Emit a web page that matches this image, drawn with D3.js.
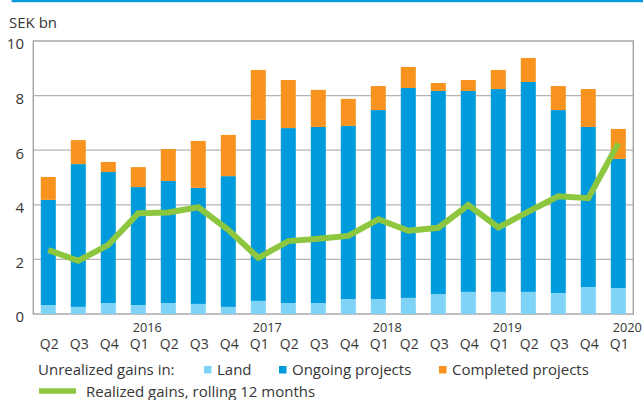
<!DOCTYPE html>
<html>
<head>
<meta charset="utf-8">
<script src="https://cdn.jsdelivr.net/npm/d3@7"></script>
<style>
  body { margin: 0; background: #fff; }
  svg text { font-family: "Open Sans", sans-serif; fill: #363636; }
</style>
</head>
<body>
<script>
// Data, SEK bn per quarter (Q2 2015 - Q1 2020)
const periods = ["2015Q2","2015Q3","2015Q4","2016Q1","2016Q2","2016Q3","2016Q4","2017Q1","2017Q2","2017Q3",
                 "2017Q4","2018Q1","2018Q2","2018Q3","2018Q4","2019Q1","2019Q2","2019Q3","2019Q4","2020Q1"];
const quarterLabels = ["Q2","Q3","Q4","Q1","Q2","Q3","Q4","Q1","Q2","Q3","Q4","Q1","Q2","Q3","Q4","Q1","Q2","Q3","Q4","Q1"];
const yearLabels = [["2016Q1","2016"],["2017Q1","2017"],["2018Q1","2018"],["2019Q1","2019"],["2020Q1","2020"]];
const land = [0.33,0.26,0.40,0.33,0.40,0.37,0.26,0.48,0.40,0.40,0.55,0.55,0.59,0.73,0.81,0.81,0.81,0.77,0.99,0.95];
const ongoing = [3.85,5.23,4.80,4.32,4.47,4.25,4.79,6.63,6.41,6.45,6.34,6.92,7.69,7.44,7.36,7.43,7.69,6.70,5.86,4.73];
const completed = [0.84,0.88,0.37,0.73,1.17,1.72,1.51,1.83,1.76,1.36,0.99,0.88,0.77,0.29,0.40,0.70,0.88,0.88,1.39,1.10];
const realized = [2.34,1.95,2.53,3.69,3.72,3.91,3.08,2.06,2.67,2.76,2.86,3.47,3.05,3.16,3.99,3.17,3.75,4.31,4.24,6.25];
const yTicks = [0,2,4,6,8,10];

const w = 643, h = 400;
const plotLeft = 33.3, plotRight = 633.3, plotTop = 41, plotBottom = 314;

const colors = { land: "#7fd3f6", ongoing: "#009bdc", completed: "#f7931e", realized: "#8dc63f" };

const svg = d3.select("body").append("svg").attr("width", w).attr("height", h);

// top rule
svg.append("rect").attr("x", 11.7).attr("y", 0).attr("width", w - 11.7).attr("height", 2.2).attr("fill", "#009bdc");

svg.append("text").attr("x", 9).attr("y", 27.5).attr("font-size", "15px").text("SEK bn");

const xScale = d3.scaleBand().domain(periods).range([plotLeft, plotRight]).paddingInner(0.5).paddingOuter(0.25);
const yScale = d3.scaleLinear().domain([0, 10]).range([plotBottom, plotTop]);

// gridlines
svg.append("g")
  .selectAll("line")
  .data(yTicks.slice(1, -1))
  .enter()
  .append("line")
  .attr("x1", plotLeft).attr("x2", plotRight)
  .attr("y1", d => yScale(d)).attr("y2", d => yScale(d))
  .attr("stroke", "#b4b4b4").attr("stroke-width", 1.3);

// frame
svg.append("rect")
  .attr("x", plotLeft).attr("y", plotTop)
  .attr("width", plotRight - plotLeft).attr("height", plotBottom - plotTop)
  .attr("fill", "none").attr("stroke", "#a3a3a3").attr("stroke-width", 1.4);

// stacked bars
const table = periods.map((p, i) => ({ period: p, land: land[i], ongoing: ongoing[i], completed: completed[i] }));
const stack = d3.stack().keys(["land", "ongoing", "completed"])(table);

svg.append("g")
  .selectAll("g")
  .data(stack)
  .enter()
  .append("g")
  .attr("fill", d => colors[d.key])
  .selectAll("rect")
  .data(d => d)
  .enter()
  .append("rect")
  .attr("x", d => xScale(d.data.period))
  .attr("y", d => yScale(d[1]))
  .attr("width", xScale.bandwidth())
  .attr("height", d => yScale(d[0]) - yScale(d[1]));

// realized gains line
const line = d3.line()
  .x((d, i) => xScale(periods[i]) + xScale.bandwidth() / 2)
  .y(d => yScale(d));

svg.append("path")
  .datum(realized)
  .attr("d", line)
  .attr("fill", "none")
  .attr("stroke", colors.realized)
  .attr("stroke-width", 6)
  .attr("stroke-linejoin", "miter");

// y axis labels
const yAxis = d3.axisLeft(yScale).tickValues(yTicks).tickSize(0).tickPadding(0);
const gy = svg.append("g").attr("transform", "translate(" + 24 + ",3)").call(yAxis);
gy.select(".domain").remove();
gy.selectAll("text").attr("font-size", "15px").attr("font-family", null).attr("fill", null);

// x axis: quarters
const qByPeriod = new Map(periods.map((p, i) => [p, quarterLabels[i]]));
const xAxis = d3.axisBottom(xScale).tickSize(0).tickPadding(0).tickFormat(p => qByPeriod.get(p));
const gx = svg.append("g").attr("transform", "translate(1," + 339 + ")").call(xAxis);
gx.select(".domain").remove();
gx.selectAll("text").attr("font-size", "14px").attr("font-family", null).attr("fill", null).attr("dy", "0.71em");

// year labels
svg.append("g")
  .selectAll("text")
  .data(yearLabels)
  .enter()
  .append("text")
  .attr("x", d => xScale(d[0]) + xScale.bandwidth() / 2 + 9)
  .attr("y", 332)
  .attr("text-anchor", "middle")
  .attr("font-size", "12.8px")
  .text(d => d[1]);

// legend
const legend = svg.append("g").attr("font-size", "15px");
legend.append("text").attr("x", 38).attr("y", 375).text("Unrealized gains in:");
const items = [
  { key: "land", label: "Land", x: 204 },
  { key: "ongoing", label: "Ongoing projects", x: 279 },
  { key: "completed", label: "Completed projects", x: 439 },
];
items.forEach(it => {
  legend.append("rect").attr("x", it.x).attr("y", 366).attr("width", 7.5).attr("height", 7.5).attr("fill", colors[it.key]);
  legend.append("text").attr("x", it.x + 13).attr("y", 375).text(it.label);
});
legend.append("line").attr("x1", 39).attr("x2", 76).attr("y1", 391).attr("y2", 391)
  .attr("stroke", colors.realized).attr("stroke-width", 5.5);
legend.append("text").attr("x", 86).attr("y", 397).text("Realized gains, rolling 12 months");
</script>
</body>
</html>
